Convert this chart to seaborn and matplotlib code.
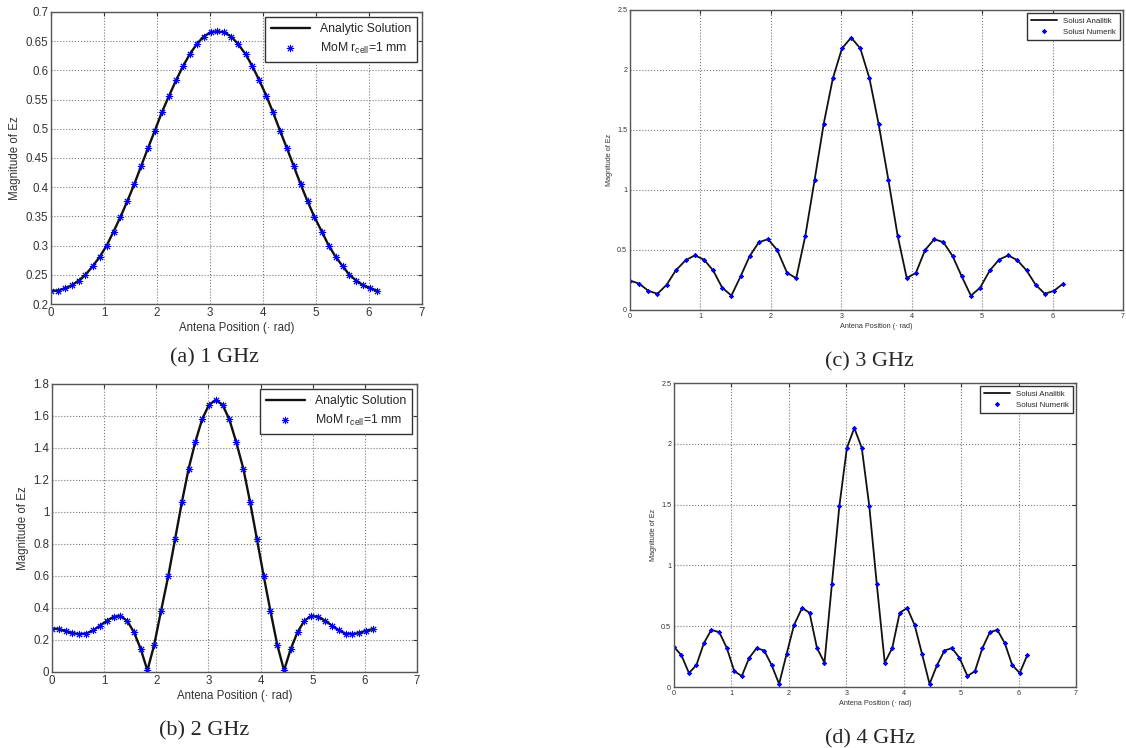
import matplotlib

matplotlib.use("Agg")
import matplotlib.pyplot as plt
import pandas as pd
import seaborn as sns
from matplotlib.ticker import FormatStrFormatter

# antenna positions (rad), 48 samples round the circle
position = [
    0.00, 0.13, 0.26, 0.39, 0.52, 0.65, 0.79, 0.92, 1.05, 1.18, 1.31, 1.44,
    1.57, 1.70, 1.83, 1.96, 2.09, 2.23, 2.36, 2.49, 2.62, 2.75, 2.88, 3.01,
    3.14, 3.27, 3.40, 3.53, 3.67, 3.80, 3.93, 4.06, 4.19, 4.32, 4.45, 4.58,
    4.71, 4.84, 4.97, 5.11, 5.24, 5.37, 5.50, 5.63, 5.76, 5.89, 6.02, 6.15,
]

ez_1ghz = [
    0.222, 0.223, 0.227, 0.232, 0.240, 0.250, 0.265, 0.281, 0.300, 0.324, 0.349, 0.376,
    0.405, 0.436, 0.467, 0.497, 0.528, 0.557, 0.583, 0.607, 0.628, 0.645, 0.658, 0.665,
    0.667, 0.665, 0.658, 0.645, 0.628, 0.607, 0.583, 0.557, 0.528, 0.497, 0.467, 0.436,
    0.405, 0.376, 0.349, 0.324, 0.300, 0.281, 0.265, 0.250, 0.240, 0.232, 0.227, 0.223,
]

ez_2ghz = [
    0.270, 0.268, 0.258, 0.245, 0.235, 0.240, 0.260, 0.290, 0.320, 0.345, 0.350, 0.320,
    0.250, 0.145, 0.010, 0.170, 0.380, 0.600, 0.830, 1.060, 1.270, 1.440, 1.580, 1.670,
    1.700, 1.670, 1.580, 1.440, 1.270, 1.060, 0.830, 0.600, 0.380, 0.170, 0.010, 0.145,
    0.250, 0.320, 0.350, 0.345, 0.320, 0.290, 0.260, 0.240, 0.235, 0.245, 0.258, 0.268,
]

ez_3ghz = [
    0.245, 0.220, 0.160, 0.135, 0.210, 0.330, 0.415, 0.455, 0.420, 0.330, 0.185, 0.120,
    0.280, 0.450, 0.565, 0.590, 0.500, 0.310, 0.265, 0.620, 1.080, 1.550, 1.930, 2.180,
    2.270, 2.180, 1.930, 1.550, 1.080, 0.620, 0.265, 0.310, 0.500, 0.590, 0.565, 0.450,
    0.280, 0.120, 0.185, 0.330, 0.420, 0.455, 0.415, 0.330, 0.210, 0.135, 0.160, 0.220,
]

ez_4ghz = [
    0.330, 0.260, 0.115, 0.180, 0.360, 0.470, 0.450, 0.320, 0.130, 0.090, 0.240, 0.320,
    0.300, 0.180, 0.025, 0.270, 0.510, 0.650, 0.610, 0.320, 0.200, 0.850, 1.490, 1.965,
    2.130, 1.965, 1.490, 0.850, 0.200, 0.320, 0.610, 0.650, 0.510, 0.270, 0.025, 0.180,
    0.300, 0.320, 0.240, 0.090, 0.130, 0.320, 0.450, 0.470, 0.360, 0.180, 0.115, 0.260,
]

y_ticks_1ghz = [0.2, 0.25, 0.3, 0.35, 0.4, 0.45, 0.5, 0.55, 0.6, 0.65, 0.7]
y_ticks_2ghz = [0, 0.2, 0.4, 0.6, 0.8, 1.0, 1.2, 1.4, 1.6, 1.8]
y_ticks_high = [0, 0.5, 1.0, 1.5, 2.0, 2.5]
x_ticks = [0, 1, 2, 3, 4, 5, 6, 7]

sns.set_style("white")
plt.rcParams["font.family"] = ["Liberation Sans", "DejaVu Sans"]

W, H = 1126, 748
fig = plt.figure(figsize=(W / 100, H / 100), dpi=100)


def add_panel(box, values, y_ticks, labels, small):
    left, top, right, bottom = box
    ax = fig.add_axes([left / W, 1 - bottom / H, (right - left) / W, (bottom - top) / H])
    df = pd.DataFrame({"position": position, "ez": values})

    fs = 5.2 if small else 8.3
    lw = 1.3 if small else 1.7
    ms = 3.2 if small else 5.2
    mew = 0.6 if small else 0.7

    sns.lineplot(data=df, x="position", y="ez", ax=ax, color="#111111",
                 linewidth=lw, label=labels[0])
    sns.lineplot(data=df, x="position", y="ez", ax=ax, color="blue",
                 linestyle="", marker=(8, 2, 0), markersize=ms,
                 markeredgecolor="blue", markeredgewidth=mew, label=labels[1])

    ax.set_xlim(0, 7)
    ax.set_ylim(y_ticks[0], y_ticks[-1])
    ax.set_xticks(x_ticks)
    ax.set_yticks(y_ticks)
    ax.yaxis.set_major_formatter(FormatStrFormatter("%g"))
    ax.grid(True, linestyle=":", color="#777777", linewidth=0.8)
    ax.tick_params(direction="in", top=True, right=True, length=3,
                   labelsize=fs, colors="#333333", pad=2)
    for s in ax.spines.values():
        s.set_color("#555555")
        s.set_linewidth(1.0)

    ax.set_xlabel("Antena Position (\u00b7 rad)", fontsize=fs, color="#333333", labelpad=2)
    ax.set_ylabel("Magnitude of Ez", fontsize=fs, color="#333333", labelpad=3)

    ax.legend(loc="upper right", fancybox=False, framealpha=1, edgecolor="#333333",
              fontsize=fs + 0.5, handlelength=3.2, borderaxespad=0.4,
              borderpad=0.5, labelspacing=0.5)
    return ax


mom = ["Analytic Solution", "MoM r$_\\mathregular{cell}$=1 mm"]
solusi = ["Solusi Analitik", "Solusi Numerik"]

add_panel((51, 12, 422, 304), ez_1ghz, y_ticks_1ghz, mom, False)
add_panel((52, 384, 417, 672), ez_2ghz, y_ticks_2ghz, mom, False)
add_panel((630, 10, 1123, 310), ez_3ghz, y_ticks_high, solusi, True)
add_panel((674, 383, 1076, 687), ez_4ghz, y_ticks_high, solusi, True)

captions = [("(a) 1 GHz", 215, 358), ("(b) 2 GHz", 204, 731),
            ("(c) 3 GHz", 869, 362), ("(d) 4 GHz", 870, 739)]
for text, cx, cy in captions:
    fig.text(cx / W, 1 - cy / H, text, ha="center", va="center",
             family="Liberation Serif", fontsize=16)

fig.savefig("out.png", dpi=100)
